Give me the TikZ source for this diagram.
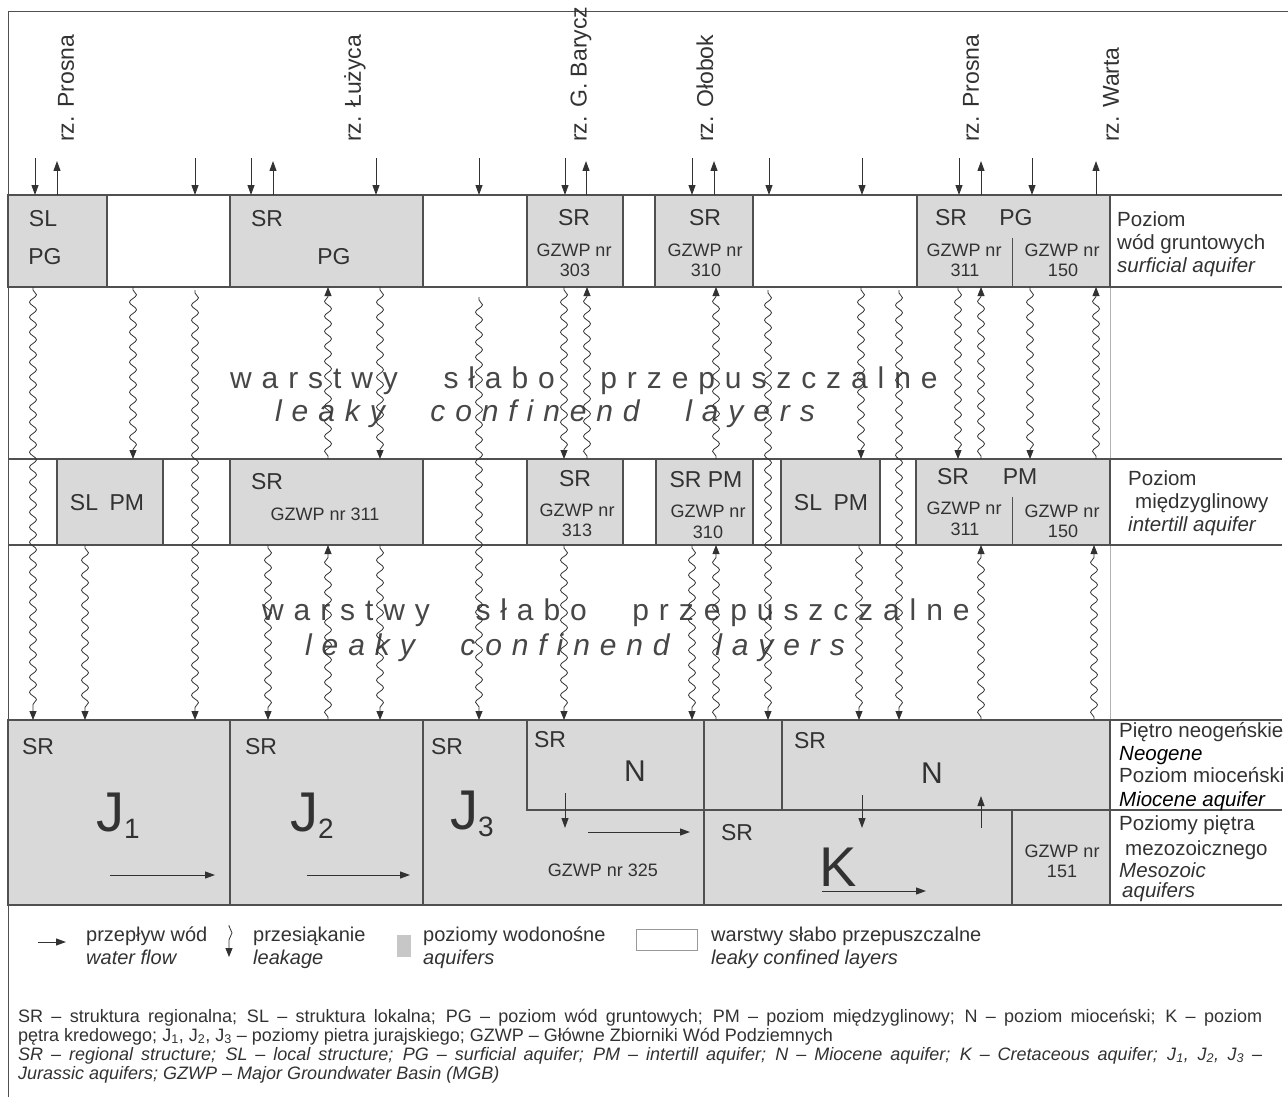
\documentclass[tikz,border=0pt]{standalone}
\usepackage{fontspec}
\setmainfont{Liberation Sans}
\newfontfamily\spacedfont[LetterSpace=33,WordSpace=2.5]{Liberation Sans}
\usetikzlibrary{arrows.meta, decorations.pathmorphing}
\definecolor{aqgray}{RGB}{217,217,217}
\definecolor{lngray}{RGB}{80,80,80}
\definecolor{txtgray}{RGB}{50,50,50}

\tikzset{
  band/.style={draw=lngray, line width=1.3pt},
  aquifer/.style={draw=lngray, fill=aqgray, line width=1.2pt},
  flow/.style={draw=txtgray, line width=1pt, -{Triangle[length=10pt,width=7pt]}},
  leak/.style={draw=txtgray, line width=0.8pt, -{Triangle[length=9pt,width=7pt]},
    decorate, decoration={snake, segment length=15pt, amplitude=3.5pt, pre length=3pt, post length=9pt}},
  lbl/.style={text=txtgray, inner sep=0pt, font=\fontsize{23}{25}\selectfont},
  gz/.style={text=txtgray, inner sep=0pt, font=\fontsize{18}{20}\selectfont},
  side/.style={text=txtgray, inner sep=0pt, anchor=base west, font=\fontsize{20.5}{22}\selectfont},
  river/.style={text=txtgray, inner sep=0pt, anchor=west, rotate=90, font=\fontsize{23}{25}\selectfont},
  big/.style={text=txtgray, inner sep=0pt, anchor=base west, font=\fontsize{56}{58}\selectfont},
  mid/.style={text=black!72, inner sep=0pt, anchor=base west, font=\spacedfont\fontsize{30}{32}\selectfont},
  leg/.style={text=txtgray, inner sep=0pt, anchor=base west, font=\fontsize{20}{22}\selectfont},
  foot/.style={text=txtgray, inner sep=0pt, anchor=base west, font=\fontsize{18}{20}\selectfont}
}

\begin{document}
\begin{tikzpicture}[x=1pt, y=-1pt]
\useasboundingbox (0,0) rectangle (1288,1097);

% frame
\draw[lngray, line width=1pt] (8,1097) -- (8,12) -- (1288,12);
\draw[black!30, line width=0.8pt] (1110,195) -- (1110,905);

% surficial aquifer boxes
\draw[aquifer] (8,195) rectangle (107,287);
\draw[aquifer] (230,195) rectangle (423,287);
\draw[aquifer] (527,195) rectangle (623,287);
\draw[aquifer] (655,195) rectangle (753,287);
\draw[aquifer] (917,195) rectangle (1110,287);
\draw[lngray, line width=1pt] (1012,238) -- (1012,287);

% intertill aquifer boxes
\draw[aquifer] (57,459) rectangle (163,545);
\draw[aquifer] (230,459) rectangle (423,545);
\draw[aquifer] (527,459) rectangle (623,545);
\draw[aquifer] (656,459) rectangle (753,545);
\draw[aquifer] (781,459) rectangle (880,545);
\draw[aquifer] (916,459) rectangle (1110,545);
\draw[lngray, line width=1pt] (1012,497) -- (1012,545);

% Neogene and Mesozoic block
\draw[aquifer] (8,720) rectangle (1110,905);
\draw[band] (230,720) -- (230,905);
\draw[band] (423,720) -- (423,905);
\draw[band] (527,720) -- (527,810) -- (1282,810);
\draw[band] (704,720) -- (704,905);
\draw[band] (782,720) -- (782,810);
\draw[band] (1012,810) -- (1012,905);

% band lines
\foreach \y in {195,287,459,545,720,905}
  \draw[band] (8,\y) -- (1282,\y);

% rivers
\foreach \x/\name [count=\i] in {66/Prosna, 355/Łużyca, 581/G. Barycz, 705/Ołobok, 971/Prosna, 1111/Warta}
  \node[river] (rz\i) at (\x,142) {rz. \name};

% infiltration and outflow at the top
\foreach \x [count=\i] in {35,195,251,376,479,565,692,769,862,959,1032}{
  \coordinate (inT\i) at (\x,158);
  \coordinate (inB\i) at (\x,195);
  \draw[flow] (inT\i) -- (inB\i);
}
\foreach \x [count=\i] in {57,273,586,714,981,1096}{
  \coordinate (outB\i) at (\x,195);
  \coordinate (outT\i) at (\x,161);
  \draw[flow] (outB\i) -- (outT\i);
}

% labels: surficial aquifer
\node[lbl] (sl1) at (43,219) {SL};
\node[lbl] (pg1) at (45,257) {PG};
\node[lbl] (sr1) at (267,219) {SR};
\node[lbl] (pg2) at (334,257) {PG};
\node[lbl] (sr2) at (574,218) {SR};
\node[gz] (gz303) at (574,250) {GZWP nr};
\node[gz] (n303) at (575,270) {303};
\node[lbl] (sr3) at (705,218) {SR};
\node[gz] (gz310) at (705,250) {GZWP nr};
\node[gz] (n310) at (706,270) {310};
\node[lbl] (sr4) at (951,218) {SR};
\node[lbl] (pg3) at (1016,218) {PG};
\node[gz] (gz311) at (964,250) {GZWP nr};
\node[gz] (n311) at (965,270) {311};
\node[gz] (gz150) at (1062,250) {GZWP nr};
\node[gz] (n150) at (1063,270) {150};
\foreach \y/\txt [count=\i] in {226/Poziom, 249/wód gruntowych, 272/{\itshape surficial aquifer}}
  \node[side] (pwg\i) at (1117,\y) {\txt};

% labels: intertill aquifer
\node[lbl] (slpm1) at (107,503) {SL\enspace PM};
\node[lbl] (sr5) at (267,482) {SR};
\node[gz] (gz311b) at (325,514) {GZWP nr 311};
\node[lbl] (sr6) at (575,479) {SR};
\node[gz] (gz313) at (577,510) {GZWP nr};
\node[gz] (n313) at (577,530) {313};
\node[lbl] (srpm) at (706,480) {SR PM};
\node[gz] (gz310b) at (708,511) {GZWP nr};
\node[gz] (n310b) at (708,532) {310};
\node[lbl] (slpm2) at (831,503) {SL\enspace PM};
\node[lbl] (sr7) at (953,477) {SR};
\node[lbl] (pm1) at (1020,477) {PM};
\node[gz] (gz311c) at (964,508) {GZWP nr};
\node[gz] (n311c) at (965,529) {311};
\node[gz] (gz150b) at (1062,511) {GZWP nr};
\node[gz] (n150b) at (1063,531) {150};
\node[side] (pm2) at (1128,485) {Poziom};
\node[side] (pm3) at (1135,508) {międzyglinowy};
\node[side] (pm4) at (1128,531) {\itshape intertill aquifer};

% labels: Neogene and Mesozoic
\node[lbl] (sr8) at (38,747) {SR};
\node[big] (j1) at (96,831) {J\raisebox{-7pt}{\fontsize{28}{30}\selectfont 1}};
\node[lbl] (sr9) at (261,747) {SR};
\node[big] (j2) at (290,831) {J\raisebox{-7pt}{\fontsize{28}{30}\selectfont 2}};
\node[lbl] (sr10) at (447,747) {SR};
\node[big] (j3) at (450,829) {J\raisebox{-7pt}{\fontsize{28}{30}\selectfont 3}};
\node[lbl] (sr11) at (550,740) {SR};
\node[text=txtgray, inner sep=0pt, anchor=base, font=\fontsize{30}{32}\selectfont] (n1) at (635,781) {N};
\node[gz] (gz325) at (603,870) {GZWP nr 325};
\node[lbl] (sr12) at (810,741) {SR};
\node[text=txtgray, inner sep=0pt, anchor=base, font=\fontsize{30}{32}\selectfont] (n2) at (932,783) {N};
\node[lbl] (sr13) at (737,833) {SR};
\node[big] (k) at (819,886) {K};
\node[gz] (gz151) at (1062,851) {GZWP nr};
\node[gz] (n151) at (1062,871) {151};
\foreach \y/\txt [count=\i] in {737/Piętro neogeńskie, 760/{\color{black}\itshape Neogene}, 782/Poziom mioceński, 806/{\color{black}\itshape Miocene aquifer}, 830/Poziomy piętra, 855/{\hspace{6pt}mezozoicznego}, 877/{\itshape Mesozoic}, 897/{\hspace{3pt}\itshape aquifers}}
  \node[side] (pn\i) at (1119,\y) {\txt};

% water flow inside the aquifers
\foreach \xa/\ya/\xb/\yb [count=\i] in {110/875/215/875, 307/875/410/875, 565/793/565/828, 588/832/690/832, 862/795/862/828, 981/828/981/796, 822/891/926/891}{
  \coordinate (fs\i) at (\xa,\ya);
  \coordinate (fe\i) at (\xb,\yb);
  \draw[flow] (fs\i) -- (fe\i);
}

% leaky confined layers
\node[mid] (wsp1) at (230,388) {warstwy słabo przepuszczalne};
\node[mid, font=\spacedfont\fontsize{30}{32}\selectfont\itshape] (lcl1) at (275,421) {leaky confinend layers};
\node[mid] (wsp2) at (262,620) {warstwy słabo przepuszczalne};
\node[mid, font=\spacedfont\fontsize{30}{32}\selectfont\itshape] (lcl2) at (305,655) {leaky confinend layers};

% leakage
\foreach \x/\ya/\yb [count=\i] in {133/287/459, 380/287/459, 564/287/459, 861/287/459, 958/287/459, 1030/287/459,
    328/459/287, 587/459/287, 716/459/287, 981/459/287, 1096/459/287,
    33/287/720, 195/290/720, 479/297/720, 768/290/720, 899/290/720,
    85/545/720, 268/545/720, 380/545/720, 564/545/720, 692/545/720, 859/545/720,
    328/720/545, 716/720/545, 981/720/545, 1094/720/545}{
  \coordinate (ls\i) at (\x,\ya);
  \coordinate (le\i) at (\x,\yb);
  \draw[leak] (ls\i) -- (le\i);
}

% legend
\coordinate (lgA) at (38,942);
\coordinate (lgB) at (66,942);
\draw[flow] (lgA) -- (lgB);
\node[leg] (lg1) at (86,941) {przepływ wód};
\node[leg] (lg1e) at (86,964) {\itshape water flow};
\coordinate (lkA) at (229,925);
\coordinate (lkB) at (229,957);
\draw[leak, decoration={snake, segment length=22pt, amplitude=3pt, pre length=1pt, post length=10pt}] (lkA) -- (lkB);
\node[leg] (lg2) at (253,941) {przesiąkanie};
\node[leg] (lg2e) at (253,964) {\itshape leakage};
\fill[black!22] (397,935) rectangle (411,957);
\node[leg] (lg3) at (423,941) {poziomy wodonośne};
\node[leg] (lg3e) at (423,964) {\itshape aquifers};
\draw[black!40, line width=1pt] (636,929) rectangle (697,950);
\node[leg] (lg4) at (711,941) {warstwy słabo przepuszczalne};
\node[leg] (lg4e) at (711,964) {\itshape leaky confined layers};

% footnote
\node[foot] (fn1) at (18,1022) {\makebox[1244pt][s]{SR – struktura regionalna; SL – struktura lokalna; PG – poziom wód gruntowych; PM – poziom międzyglinowy; N – poziom mioceński; K – poziom}};
\node[foot] (fn2) at (18,1041) {pętra kredowego; J\textsubscript{1}, J\textsubscript{2}, J\textsubscript{3} – poziomy pietra jurajskiego; GZWP – Główne Zbiorniki Wód Podziemnych};
\node[foot] (fn3) at (18,1060) {\itshape\makebox[1244pt][s]{SR – regional structure; SL – local structure; PG – surficial aquifer; PM – intertill aquifer; N – Miocene aquifer; K – Cretaceous aquifer; J\textsubscript{1}, J\textsubscript{2}, J\textsubscript{3} –}};
\node[foot] (fn4) at (18,1079) {\itshape Jurassic aquifers; GZWP – Major Groundwater Basin (MGB)};
\end{tikzpicture}
\end{document}
